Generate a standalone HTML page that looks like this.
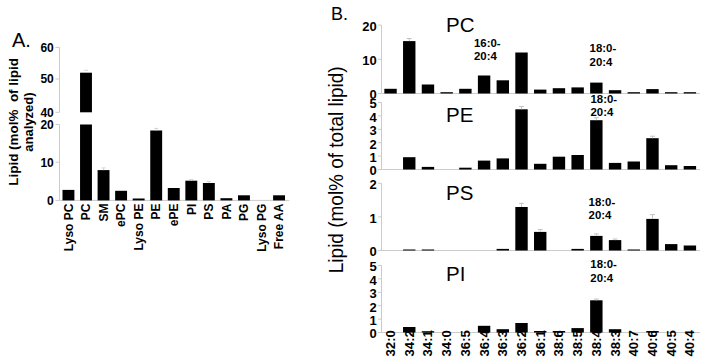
<!DOCTYPE html>
<html><head><meta charset="utf-8"><style>
html,body{margin:0;padding:0;background:#fff;}
body{width:705px;height:364px;overflow:hidden;}
svg{display:block;}
text{font-family:"Liberation Sans", sans-serif;fill:#000;}
</style></head><body>
<svg width="705" height="364" viewBox="0 0 705 364">
<line x1="59.5" y1="47.4" x2="59.5" y2="112.3" stroke="#cbcbcb" stroke-width="1"/>
<line x1="55.5" y1="47.4" x2="59.5" y2="47.4" stroke="#cbcbcb" stroke-width="1"/>
<text x="53.8" y="51.699999999999996" font-size="12" font-weight="bold" text-anchor="end">60</text>
<line x1="55.5" y1="79.0" x2="59.5" y2="79.0" stroke="#cbcbcb" stroke-width="1"/>
<text x="53.8" y="83.3" font-size="12" font-weight="bold" text-anchor="end">50</text>
<line x1="55.5" y1="112.3" x2="59.5" y2="112.3" stroke="#cbcbcb" stroke-width="1"/>
<text x="53.8" y="116.6" font-size="12" font-weight="bold" text-anchor="end">40</text>
<line x1="59.5" y1="124.5" x2="59.5" y2="200.4" stroke="#cbcbcb" stroke-width="1"/>
<line x1="55.5" y1="124.5" x2="59.5" y2="124.5" stroke="#cbcbcb" stroke-width="1"/>
<text x="53.8" y="128.8" font-size="12" font-weight="bold" text-anchor="end">20</text>
<line x1="55.5" y1="162.2" x2="59.5" y2="162.2" stroke="#cbcbcb" stroke-width="1"/>
<text x="53.8" y="166.5" font-size="12" font-weight="bold" text-anchor="end">10</text>
<line x1="55.5" y1="200.4" x2="59.5" y2="200.4" stroke="#cbcbcb" stroke-width="1"/>
<text x="53.8" y="204.70000000000002" font-size="12" font-weight="bold" text-anchor="end">0</text>
<line x1="59.5" y1="200.4" x2="289.3" y2="200.4" stroke="#cbcbcb" stroke-width="1"/>
<rect x="62.50" y="189.90" width="11.90" height="10.50" fill="#000"/>
<text x="72.75" y="203.6" font-size="12" font-weight="bold" text-anchor="end" transform="rotate(-90 72.75 203.6)">Lyso PC</text>
<rect x="80.05" y="72.70" width="11.90" height="39.60" fill="#000"/>
<rect x="80.05" y="124.50" width="11.90" height="75.90" fill="#000"/>
<line x1="84.0" y1="70.2" x2="88.0" y2="70.2" stroke="#d4d4d4" stroke-width="1"/>
<text x="90.3" y="203.6" font-size="12" font-weight="bold" text-anchor="end" transform="rotate(-90 90.3 203.6)">PC</text>
<rect x="97.60" y="170.10" width="11.90" height="30.30" fill="#000"/>
<line x1="101.55" y1="167.9" x2="105.55" y2="167.9" stroke="#d4d4d4" stroke-width="1"/>
<line x1="103.55" y1="167.9" x2="103.55" y2="170.1" stroke="#d4d4d4" stroke-width="1"/>
<text x="107.85" y="203.6" font-size="12" font-weight="bold" text-anchor="end" transform="rotate(-90 107.85 203.6)">SM</text>
<rect x="115.15" y="190.80" width="11.90" height="9.60" fill="#000"/>
<text x="125.4" y="203.6" font-size="12" font-weight="bold" text-anchor="end" transform="rotate(-90 125.4 203.6)">ePC</text>
<rect x="132.70" y="198.50" width="11.90" height="1.90" fill="#000"/>
<text x="142.95" y="203.6" font-size="12" font-weight="bold" text-anchor="end" transform="rotate(-90 142.95 203.6)">Lyso PE</text>
<rect x="150.25" y="130.50" width="11.90" height="69.90" fill="#000"/>
<line x1="154.2" y1="128.4" x2="158.2" y2="128.4" stroke="#d4d4d4" stroke-width="1"/>
<line x1="156.2" y1="128.4" x2="156.2" y2="130.5" stroke="#d4d4d4" stroke-width="1"/>
<text x="160.5" y="203.6" font-size="12" font-weight="bold" text-anchor="end" transform="rotate(-90 160.5 203.6)">PE</text>
<rect x="167.80" y="188.00" width="11.90" height="12.40" fill="#000"/>
<text x="178.05" y="203.6" font-size="12" font-weight="bold" text-anchor="end" transform="rotate(-90 178.05 203.6)">ePE</text>
<rect x="185.35" y="180.70" width="11.90" height="19.70" fill="#000"/>
<line x1="189.3" y1="179.5" x2="193.3" y2="179.5" stroke="#d4d4d4" stroke-width="1"/>
<line x1="191.3" y1="179.5" x2="191.3" y2="180.7" stroke="#d4d4d4" stroke-width="1"/>
<text x="195.60000000000002" y="203.6" font-size="12" font-weight="bold" text-anchor="end" transform="rotate(-90 195.60000000000002 203.6)">PI</text>
<rect x="202.90" y="183.00" width="11.90" height="17.40" fill="#000"/>
<line x1="206.85" y1="181.5" x2="210.85" y2="181.5" stroke="#d4d4d4" stroke-width="1"/>
<line x1="208.85" y1="181.5" x2="208.85" y2="183.0" stroke="#d4d4d4" stroke-width="1"/>
<text x="213.15" y="203.6" font-size="12" font-weight="bold" text-anchor="end" transform="rotate(-90 213.15 203.6)">PS</text>
<rect x="220.45" y="198.20" width="11.90" height="2.20" fill="#000"/>
<text x="230.70000000000002" y="203.6" font-size="12" font-weight="bold" text-anchor="end" transform="rotate(-90 230.70000000000002 203.6)">PA</text>
<rect x="238.00" y="195.30" width="11.90" height="5.10" fill="#000"/>
<text x="248.25" y="203.6" font-size="12" font-weight="bold" text-anchor="end" transform="rotate(-90 248.25 203.6)">PG</text>
<text x="265.8" y="203.6" font-size="12" font-weight="bold" text-anchor="end" transform="rotate(-90 265.8 203.6)">Lyso PG</text>
<rect x="273.10" y="195.30" width="11.90" height="5.10" fill="#000"/>
<text x="283.35" y="203.6" font-size="12" font-weight="bold" text-anchor="end" transform="rotate(-90 283.35 203.6)">Free AA</text>
<text x="12" y="47" font-size="20" font-weight="normal" text-anchor="start">A.</text>
<text font-size="13.45" font-weight="bold" text-anchor="middle" transform="translate(18,121.9) rotate(-90)">Lipid (mol%&#160; of lipid</text>
<text font-size="13" font-weight="bold" text-anchor="middle" transform="translate(32.5,122) rotate(-90)">analyzed)</text>
<text x="331" y="19.5" font-size="18" font-weight="normal" text-anchor="start">B.</text>
<line x1="381.5" y1="25.099999999999994" x2="381.5" y2="93.5" stroke="#cbcbcb" stroke-width="1"/>
<line x1="378" y1="93.5" x2="381.5" y2="93.5" stroke="#cbcbcb" stroke-width="1"/>
<text x="376.8" y="99.3" font-size="13" font-weight="bold" text-anchor="end">0</text>
<line x1="378" y1="59.3" x2="381.5" y2="59.3" stroke="#cbcbcb" stroke-width="1"/>
<text x="376.8" y="65.1" font-size="13" font-weight="bold" text-anchor="end">10</text>
<line x1="378" y1="25.099999999999994" x2="381.5" y2="25.099999999999994" stroke="#cbcbcb" stroke-width="1"/>
<text x="376.8" y="30.899999999999995" font-size="13" font-weight="bold" text-anchor="end">20</text>
<line x1="381.5" y1="93.5" x2="700" y2="93.5" stroke="#cbcbcb" stroke-width="1"/>
<rect x="384.34" y="88.80" width="12.40" height="4.70" fill="#000"/>
<rect x="403.05" y="41.10" width="12.40" height="52.40" fill="#000"/>
<line x1="406.75499999999994" y1="38.5" x2="411.75499999999994" y2="38.5" stroke="#c4c4c4" stroke-width="1"/>
<line x1="409.25499999999994" y1="38.5" x2="409.25499999999994" y2="41.1" stroke="#c4c4c4" stroke-width="1"/>
<rect x="421.76" y="84.50" width="12.40" height="9.00" fill="#000"/>
<rect x="440.47" y="92.20" width="12.40" height="1.30" fill="#000"/>
<rect x="459.18" y="88.80" width="12.40" height="4.70" fill="#000"/>
<rect x="477.89" y="75.50" width="12.40" height="18.00" fill="#000"/>
<rect x="496.60" y="80.30" width="12.40" height="13.20" fill="#000"/>
<rect x="515.31" y="52.50" width="12.40" height="41.00" fill="#000"/>
<rect x="534.02" y="89.60" width="12.40" height="3.90" fill="#000"/>
<rect x="552.74" y="88.20" width="12.40" height="5.30" fill="#000"/>
<rect x="571.44" y="87.40" width="12.40" height="6.10" fill="#000"/>
<rect x="590.15" y="82.60" width="12.40" height="10.90" fill="#000"/>
<rect x="608.87" y="90.20" width="12.40" height="3.30" fill="#000"/>
<rect x="627.58" y="92.20" width="12.40" height="1.30" fill="#000"/>
<rect x="646.28" y="89.10" width="12.40" height="4.40" fill="#000"/>
<rect x="665.00" y="92.20" width="12.40" height="1.30" fill="#000"/>
<rect x="683.70" y="92.20" width="12.40" height="1.30" fill="#000"/>
<text x="446" y="32.0" font-size="20.5" font-weight="normal" text-anchor="start">PC</text>
<line x1="381.5" y1="102.5" x2="381.5" y2="169.5" stroke="#cbcbcb" stroke-width="1"/>
<line x1="378" y1="169.5" x2="381.5" y2="169.5" stroke="#cbcbcb" stroke-width="1"/>
<text x="376.8" y="175.3" font-size="13" font-weight="bold" text-anchor="end">0</text>
<line x1="378" y1="156.1" x2="381.5" y2="156.1" stroke="#cbcbcb" stroke-width="1"/>
<text x="376.8" y="161.9" font-size="13" font-weight="bold" text-anchor="end">1</text>
<line x1="378" y1="142.7" x2="381.5" y2="142.7" stroke="#cbcbcb" stroke-width="1"/>
<text x="376.8" y="148.5" font-size="13" font-weight="bold" text-anchor="end">2</text>
<line x1="378" y1="129.3" x2="381.5" y2="129.3" stroke="#cbcbcb" stroke-width="1"/>
<text x="376.8" y="135.10000000000002" font-size="13" font-weight="bold" text-anchor="end">3</text>
<line x1="378" y1="115.9" x2="381.5" y2="115.9" stroke="#cbcbcb" stroke-width="1"/>
<text x="376.8" y="121.7" font-size="13" font-weight="bold" text-anchor="end">4</text>
<line x1="378" y1="102.5" x2="381.5" y2="102.5" stroke="#cbcbcb" stroke-width="1"/>
<text x="376.8" y="108.3" font-size="13" font-weight="bold" text-anchor="end">5</text>
<line x1="381.5" y1="169.5" x2="700" y2="169.5" stroke="#cbcbcb" stroke-width="1"/>
<rect x="403.05" y="157.20" width="12.40" height="12.30" fill="#000"/>
<rect x="421.76" y="166.90" width="12.40" height="2.60" fill="#000"/>
<rect x="459.18" y="167.70" width="12.40" height="1.80" fill="#000"/>
<rect x="477.89" y="160.60" width="12.40" height="8.90" fill="#000"/>
<rect x="496.60" y="158.40" width="12.40" height="11.10" fill="#000"/>
<rect x="515.31" y="109.30" width="12.40" height="60.20" fill="#000"/>
<line x1="519.015" y1="106.5" x2="524.015" y2="106.5" stroke="#c4c4c4" stroke-width="1"/>
<line x1="521.515" y1="106.5" x2="521.515" y2="109.3" stroke="#c4c4c4" stroke-width="1"/>
<rect x="534.02" y="163.80" width="12.40" height="5.70" fill="#000"/>
<rect x="552.74" y="156.70" width="12.40" height="12.80" fill="#000"/>
<rect x="571.44" y="155.00" width="12.40" height="14.50" fill="#000"/>
<rect x="590.15" y="120.20" width="12.40" height="49.30" fill="#000"/>
<line x1="593.855" y1="117.7" x2="598.855" y2="117.7" stroke="#c4c4c4" stroke-width="1"/>
<line x1="596.355" y1="117.7" x2="596.355" y2="120.2" stroke="#c4c4c4" stroke-width="1"/>
<rect x="608.87" y="162.90" width="12.40" height="6.60" fill="#000"/>
<rect x="627.58" y="161.50" width="12.40" height="8.00" fill="#000"/>
<rect x="646.28" y="138.20" width="12.40" height="31.30" fill="#000"/>
<line x1="649.985" y1="136.2" x2="654.985" y2="136.2" stroke="#c4c4c4" stroke-width="1"/>
<line x1="652.485" y1="136.2" x2="652.485" y2="138.2" stroke="#c4c4c4" stroke-width="1"/>
<rect x="665.00" y="165.20" width="12.40" height="4.30" fill="#000"/>
<rect x="683.70" y="166.00" width="12.40" height="3.50" fill="#000"/>
<text x="446" y="122.3" font-size="20.5" font-weight="normal" text-anchor="start">PE</text>
<line x1="381.5" y1="183.3" x2="381.5" y2="250.5" stroke="#cbcbcb" stroke-width="1"/>
<line x1="378" y1="250.5" x2="381.5" y2="250.5" stroke="#cbcbcb" stroke-width="1"/>
<text x="376.8" y="256.3" font-size="13" font-weight="bold" text-anchor="end">0</text>
<line x1="378" y1="216.9" x2="381.5" y2="216.9" stroke="#cbcbcb" stroke-width="1"/>
<text x="376.8" y="222.70000000000002" font-size="13" font-weight="bold" text-anchor="end">1</text>
<line x1="378" y1="183.3" x2="381.5" y2="183.3" stroke="#cbcbcb" stroke-width="1"/>
<text x="376.8" y="189.10000000000002" font-size="13" font-weight="bold" text-anchor="end">2</text>
<line x1="381.5" y1="250.5" x2="700" y2="250.5" stroke="#cbcbcb" stroke-width="1"/>
<rect x="403.05" y="249.50" width="12.40" height="1.00" fill="#000"/>
<rect x="421.76" y="249.50" width="12.40" height="1.00" fill="#000"/>
<rect x="496.60" y="248.90" width="12.40" height="1.60" fill="#000"/>
<rect x="515.31" y="207.00" width="12.40" height="43.50" fill="#000"/>
<line x1="519.015" y1="203.3" x2="524.015" y2="203.3" stroke="#c4c4c4" stroke-width="1"/>
<line x1="521.515" y1="203.3" x2="521.515" y2="207.0" stroke="#c4c4c4" stroke-width="1"/>
<rect x="534.02" y="231.90" width="12.40" height="18.60" fill="#000"/>
<line x1="537.725" y1="229.6" x2="542.725" y2="229.6" stroke="#c4c4c4" stroke-width="1"/>
<line x1="540.225" y1="229.6" x2="540.225" y2="231.9" stroke="#c4c4c4" stroke-width="1"/>
<rect x="571.44" y="248.90" width="12.40" height="1.60" fill="#000"/>
<rect x="590.15" y="235.90" width="12.40" height="14.60" fill="#000"/>
<line x1="593.855" y1="233.9" x2="598.855" y2="233.9" stroke="#c4c4c4" stroke-width="1"/>
<line x1="596.355" y1="233.9" x2="596.355" y2="235.9" stroke="#c4c4c4" stroke-width="1"/>
<rect x="608.87" y="240.10" width="12.40" height="10.40" fill="#000"/>
<line x1="612.565" y1="239.0" x2="617.565" y2="239.0" stroke="#c4c4c4" stroke-width="1"/>
<line x1="615.065" y1="239.0" x2="615.065" y2="240.1" stroke="#c4c4c4" stroke-width="1"/>
<rect x="627.58" y="249.50" width="12.40" height="1.00" fill="#000"/>
<rect x="646.28" y="218.90" width="12.40" height="31.60" fill="#000"/>
<line x1="649.985" y1="214.6" x2="654.985" y2="214.6" stroke="#c4c4c4" stroke-width="1"/>
<line x1="652.485" y1="214.6" x2="652.485" y2="218.9" stroke="#c4c4c4" stroke-width="1"/>
<rect x="665.00" y="244.10" width="12.40" height="6.40" fill="#000"/>
<rect x="683.70" y="245.50" width="12.40" height="5.00" fill="#000"/>
<text x="446" y="199.5" font-size="20.5" font-weight="normal" text-anchor="start">PS</text>
<line x1="381.5" y1="265.5" x2="381.5" y2="332.5" stroke="#cbcbcb" stroke-width="1"/>
<line x1="378" y1="332.5" x2="381.5" y2="332.5" stroke="#cbcbcb" stroke-width="1"/>
<text x="376.8" y="338.3" font-size="13" font-weight="bold" text-anchor="end">0</text>
<line x1="378" y1="319.1" x2="381.5" y2="319.1" stroke="#cbcbcb" stroke-width="1"/>
<text x="376.8" y="324.90000000000003" font-size="13" font-weight="bold" text-anchor="end">1</text>
<line x1="378" y1="305.7" x2="381.5" y2="305.7" stroke="#cbcbcb" stroke-width="1"/>
<text x="376.8" y="311.5" font-size="13" font-weight="bold" text-anchor="end">2</text>
<line x1="378" y1="292.3" x2="381.5" y2="292.3" stroke="#cbcbcb" stroke-width="1"/>
<text x="376.8" y="298.1" font-size="13" font-weight="bold" text-anchor="end">3</text>
<line x1="378" y1="278.9" x2="381.5" y2="278.9" stroke="#cbcbcb" stroke-width="1"/>
<text x="376.8" y="284.7" font-size="13" font-weight="bold" text-anchor="end">4</text>
<line x1="378" y1="265.5" x2="381.5" y2="265.5" stroke="#cbcbcb" stroke-width="1"/>
<text x="376.8" y="271.3" font-size="13" font-weight="bold" text-anchor="end">5</text>
<line x1="381.5" y1="332.5" x2="700" y2="332.5" stroke="#cbcbcb" stroke-width="1"/>
<rect x="403.05" y="327.00" width="12.40" height="5.50" fill="#000"/>
<rect x="421.76" y="331.20" width="12.40" height="1.30" fill="#000"/>
<rect x="477.89" y="325.80" width="12.40" height="6.70" fill="#000"/>
<rect x="496.60" y="329.20" width="12.40" height="3.30" fill="#000"/>
<rect x="515.31" y="323.00" width="12.40" height="9.50" fill="#000"/>
<rect x="534.02" y="331.00" width="12.40" height="1.50" fill="#000"/>
<rect x="552.74" y="331.00" width="12.40" height="1.50" fill="#000"/>
<rect x="571.44" y="328.10" width="12.40" height="4.40" fill="#000"/>
<rect x="590.15" y="300.30" width="12.40" height="32.20" fill="#000"/>
<line x1="593.855" y1="299.0" x2="598.855" y2="299.0" stroke="#c4c4c4" stroke-width="1"/>
<line x1="596.355" y1="299.0" x2="596.355" y2="300.3" stroke="#c4c4c4" stroke-width="1"/>
<rect x="608.87" y="329.20" width="12.40" height="3.30" fill="#000"/>
<rect x="646.28" y="331.00" width="12.40" height="1.50" fill="#000"/>
<text x="446" y="280.5" font-size="20.5" font-weight="normal" text-anchor="start">PI</text>
<text x="589.6" y="52.4" font-size="11.4" font-weight="bold" text-anchor="start">18:0-</text>
<text x="589.6" y="65.8" font-size="11.4" font-weight="bold" text-anchor="start">20:4</text>
<text x="590.5" y="102.6" font-size="11.4" font-weight="bold" text-anchor="start">18:0-</text>
<text x="590.5" y="115.6" font-size="11.4" font-weight="bold" text-anchor="start">20:4</text>
<text x="588.6" y="205.6" font-size="11.4" font-weight="bold" text-anchor="start">18:0-</text>
<text x="588.6" y="219.0" font-size="11.4" font-weight="bold" text-anchor="start">20:4</text>
<text x="590.3" y="268.4" font-size="11.4" font-weight="bold" text-anchor="start">18:0-</text>
<text x="590.3" y="282.1" font-size="11.4" font-weight="bold" text-anchor="start">20:4</text>
<text x="474" y="46.8" font-size="11.4" font-weight="bold" text-anchor="start">16:0-</text>
<text x="474" y="60.3" font-size="11.4" font-weight="bold" text-anchor="start">20:4</text>
<text font-size="12.5" font-weight="bold" text-anchor="end" transform="translate(395.05,330.1) rotate(-90) scale(1.056,1)">32:0</text>
<text font-size="12.5" font-weight="bold" text-anchor="end" transform="translate(413.75,330.1) rotate(-90) scale(1.056,1)">34:2</text>
<text font-size="12.5" font-weight="bold" text-anchor="end" transform="translate(432.47,330.1) rotate(-90) scale(1.056,1)">34:1</text>
<text font-size="12.5" font-weight="bold" text-anchor="end" transform="translate(451.18,330.1) rotate(-90) scale(1.056,1)">34:0</text>
<text font-size="12.5" font-weight="bold" text-anchor="end" transform="translate(469.88,330.1) rotate(-90) scale(1.056,1)">36:5</text>
<text font-size="12.5" font-weight="bold" text-anchor="end" transform="translate(488.60,330.1) rotate(-90) scale(1.056,1)">36:4</text>
<text font-size="12.5" font-weight="bold" text-anchor="end" transform="translate(507.31,330.1) rotate(-90) scale(1.056,1)">36:3</text>
<text font-size="12.5" font-weight="bold" text-anchor="end" transform="translate(526.01,330.1) rotate(-90) scale(1.056,1)">36:2</text>
<text font-size="12.5" font-weight="bold" text-anchor="end" transform="translate(544.73,330.1) rotate(-90) scale(1.056,1)">36:1</text>
<text font-size="12.5" font-weight="bold" text-anchor="end" transform="translate(563.43,330.1) rotate(-90) scale(1.056,1)">38:6</text>
<text font-size="12.5" font-weight="bold" text-anchor="end" transform="translate(582.14,330.1) rotate(-90) scale(1.056,1)">38:5</text>
<text font-size="12.5" font-weight="bold" text-anchor="end" transform="translate(600.86,330.1) rotate(-90) scale(1.056,1)">38:4</text>
<text font-size="12.5" font-weight="bold" text-anchor="end" transform="translate(619.57,330.1) rotate(-90) scale(1.056,1)">38:3</text>
<text font-size="12.5" font-weight="bold" text-anchor="end" transform="translate(638.27,330.1) rotate(-90) scale(1.056,1)">40:7</text>
<text font-size="12.5" font-weight="bold" text-anchor="end" transform="translate(656.99,330.1) rotate(-90) scale(1.056,1)">40:6</text>
<text font-size="12.5" font-weight="bold" text-anchor="end" transform="translate(675.69,330.1) rotate(-90) scale(1.056,1)">40:5</text>
<text font-size="12.5" font-weight="bold" text-anchor="end" transform="translate(694.40,330.1) rotate(-90) scale(1.056,1)">40:4</text>
<text font-size="19" font-weight="normal" text-anchor="middle" transform="translate(343.4,169.8) rotate(-90) scale(1,1.07)">Lipid (mol% of total lipid)</text>
</svg>
</body></html>
